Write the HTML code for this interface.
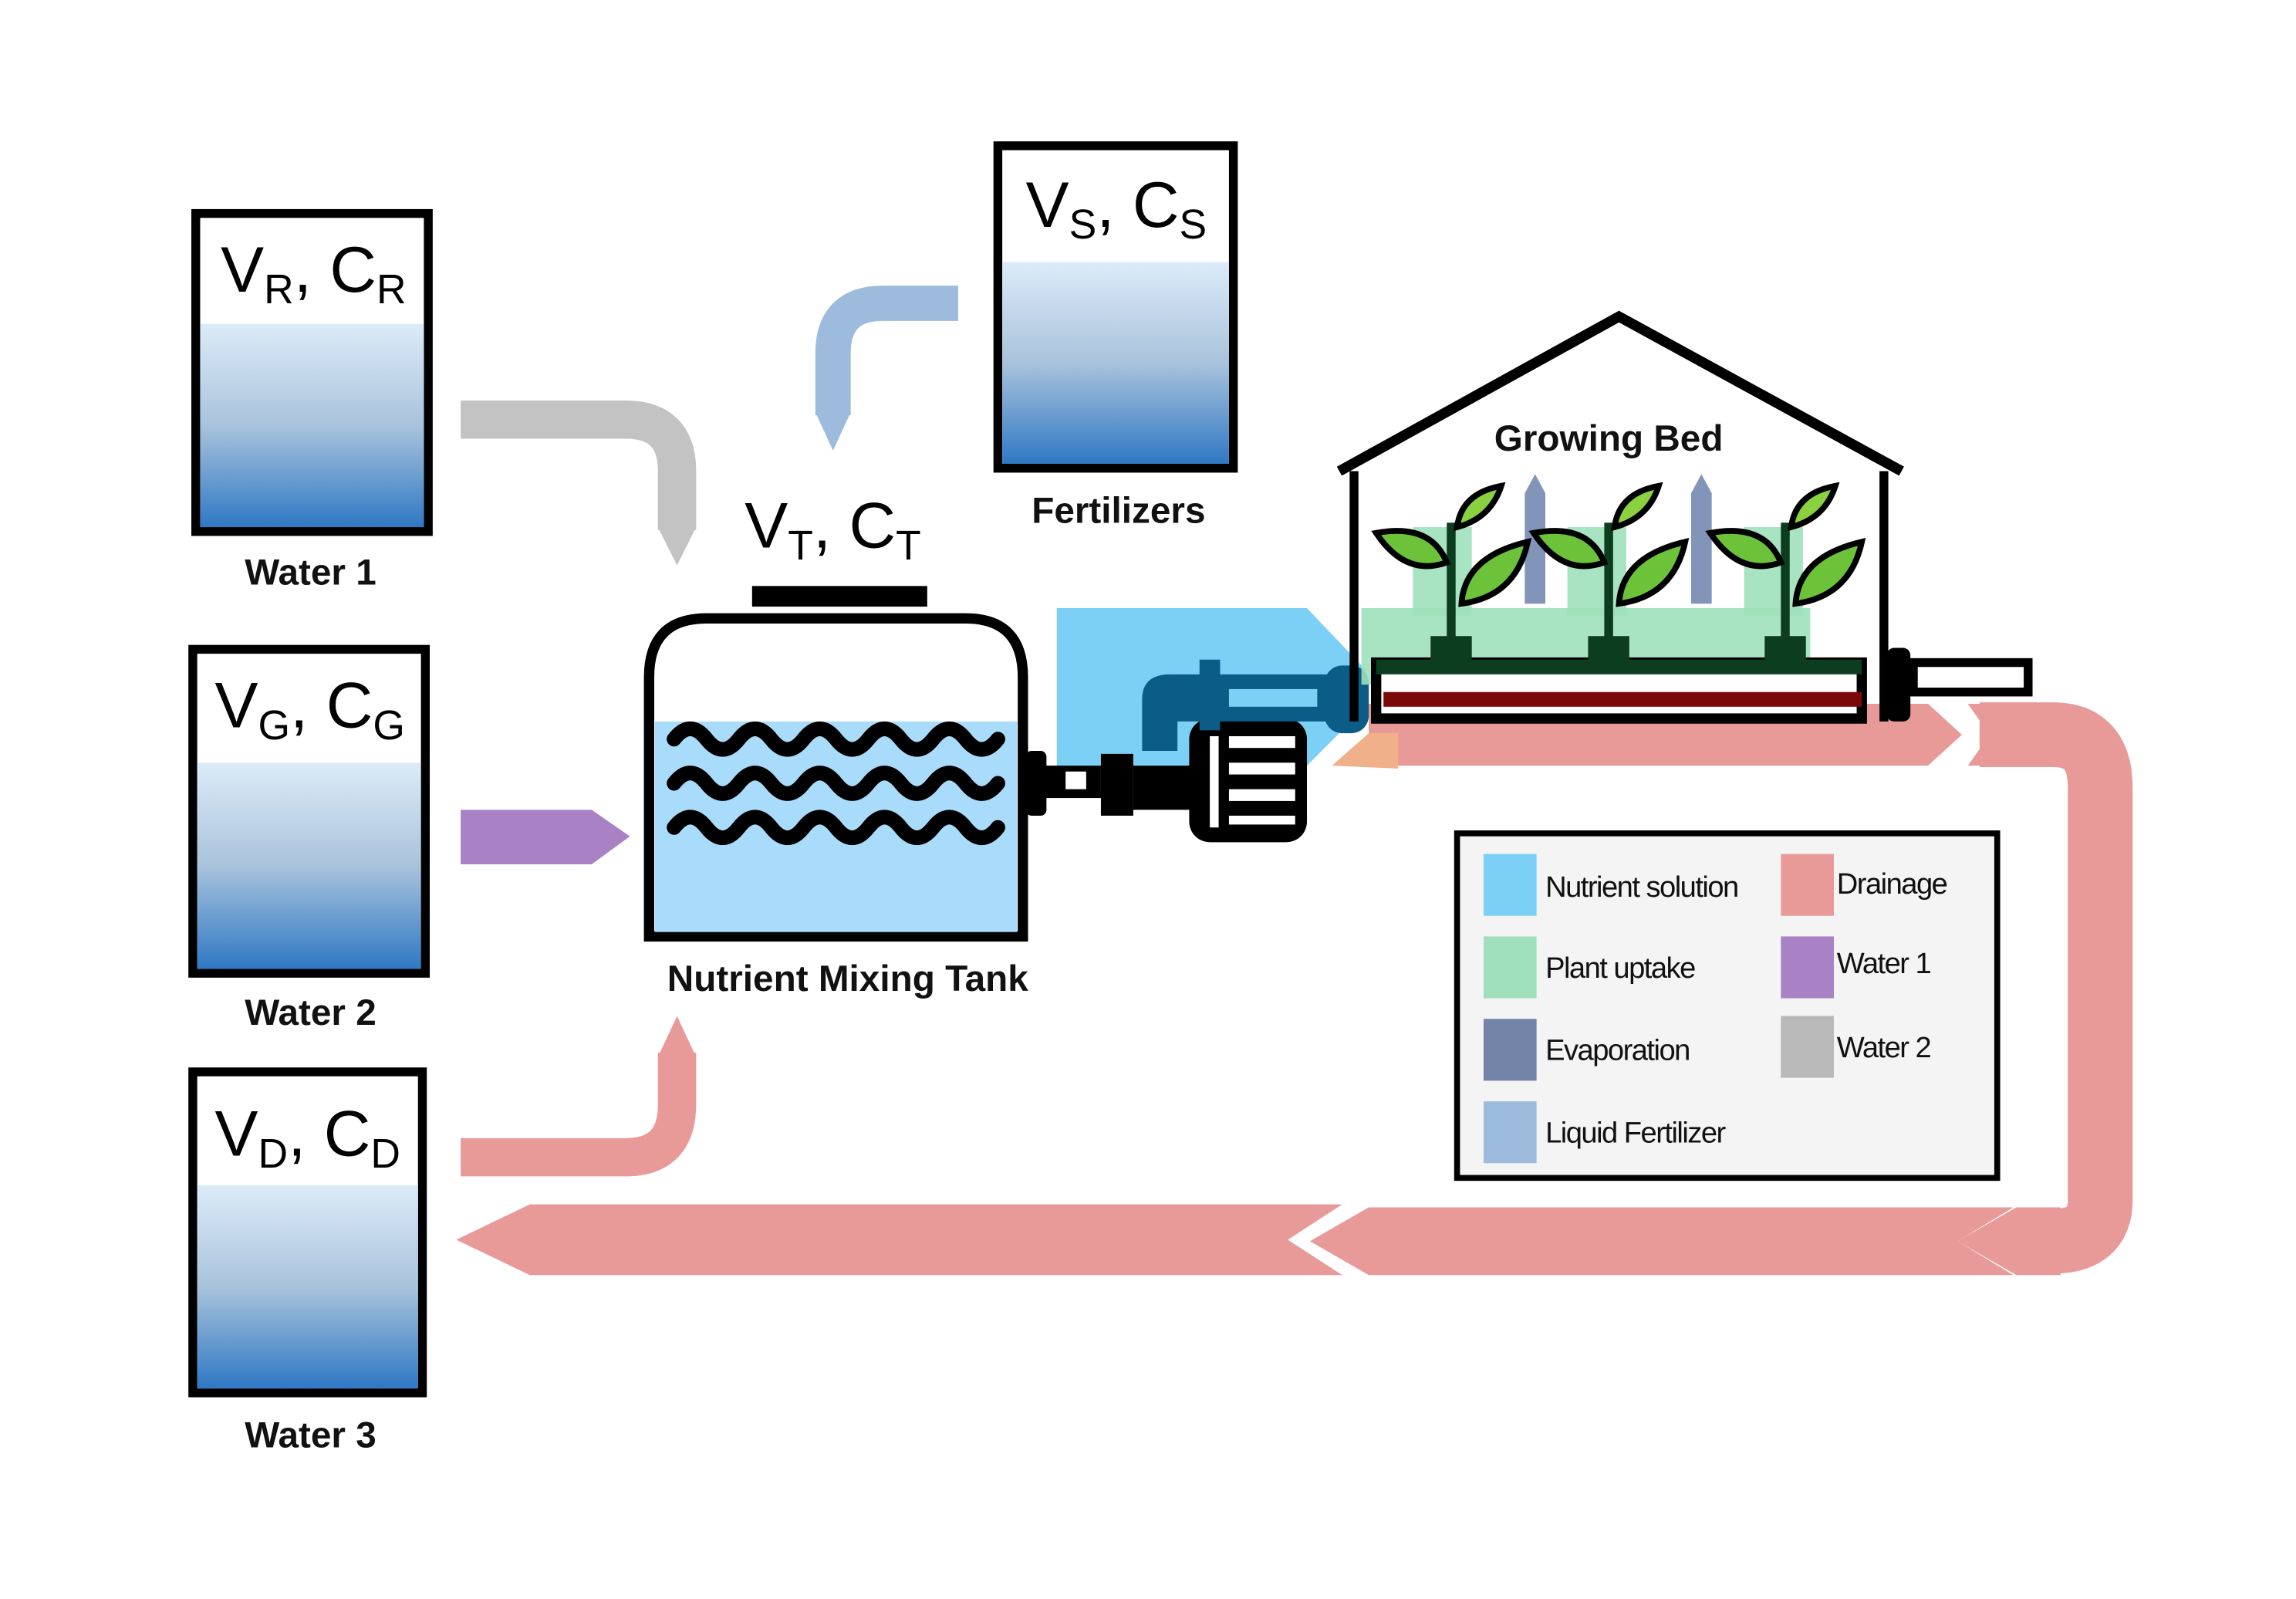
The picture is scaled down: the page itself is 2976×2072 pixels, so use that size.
<!DOCTYPE html>
<html><head><meta charset="utf-8"><style>
html,body{margin:0;padding:0;background:#fff}
svg{display:block}
text{font-family:"Liberation Sans",sans-serif}
</style></head><body>
<svg width="2976" height="2072" viewBox="0 0 1560 1086" preserveAspectRatio="none" xmlns="http://www.w3.org/2000/svg">
<defs>
<linearGradient id="wg" x1="0" y1="0" x2="0" y2="1">
<stop offset="0" stop-color="#dcebf8"/><stop offset="0.5" stop-color="#a9c3dc"/><stop offset="1" stop-color="#2f78c4"/>
</linearGradient>
</defs>
<rect width="1560" height="1086" fill="#fff"/>

<!-- flows to tank -->
<path d="M313,285 H425 Q460,285 460,320 V360" fill="none" stroke="#c3c3c3" stroke-width="26"/>
<polygon points="447,358 473,358 460,384" fill="#c3c3c3"/>
<polygon points="313,550 402,550 428,568 402,587 313,587" fill="#a982c6"/>
<path d="M313,786 H425 Q460,786 460,750 V715" fill="none" stroke="#e89a99" stroke-width="26"/>
<polygon points="447,718 473,718 460,690" fill="#e89a99"/>
<path d="M651,206 H600 Q566,206 566,240 V282" fill="none" stroke="#9dbcdd" stroke-width="24"/>
<polygon points="554,280 578,280 566,306" fill="#9dbcdd"/>

<!-- tanks -->
<g stroke="#000" stroke-width="6">
<rect x="133" y="145" width="158" height="216" fill="#fff"/>
<rect x="131" y="441" width="158" height="220" fill="#fff"/>
<rect x="131" y="728" width="156" height="218" fill="#fff"/>
<rect x="678" y="99" width="160" height="219" fill="#fff"/>
</g>
<rect x="136" y="220" width="152" height="138" fill="url(#wg)"/>
<rect x="134" y="518" width="152" height="140" fill="url(#wg)"/>
<rect x="134" y="805" width="150" height="138" fill="url(#wg)"/>
<rect x="681" y="178" width="154" height="137" fill="url(#wg)"/>
<g font-size="44" fill="#000">
<text x="150" y="198">V<tspan font-size="28" dy="8">R</tspan><tspan dy="-8">, C</tspan><tspan font-size="28" dy="8">R</tspan></text>
<text x="146" y="494">V<tspan font-size="28" dy="8">G</tspan><tspan dy="-8">, C</tspan><tspan font-size="28" dy="8">G</tspan></text>
<text x="146" y="785">V<tspan font-size="28" dy="8">D</tspan><tspan dy="-8">, C</tspan><tspan font-size="28" dy="8">D</tspan></text>
<text x="697" y="154">V<tspan font-size="28" dy="8">S</tspan><tspan dy="-8">, C</tspan><tspan font-size="28" dy="8">S</tspan></text>
<text x="506" y="372">V<tspan font-size="28" dy="8">T</tspan><tspan dy="-8">, C</tspan><tspan font-size="28" dy="8">T</tspan></text>
</g>
<g font-size="25" font-weight="bold" text-anchor="middle" fill="#111">
<text x="211" y="397">Water 1</text>
<text x="211" y="696">Water 2</text>
<text x="211" y="983">Water 3</text>
<text x="760" y="355">Fertilizers</text>
<text x="576" y="673">Nutrient Mixing Tank</text>
<text x="1093" y="306">Growing Bed</text>
</g>

<!-- mixing tank -->
<path d="M441,636 V460 Q441,420 480,420 H656 Q695,420 695,460 V636 Z" fill="#fff" stroke="#000" stroke-width="7"/>
<rect x="445" y="490" width="246" height="143" fill="#a9dcfa"/>
<rect x="511" y="398" width="119" height="14" fill="#000"/>
<g fill="none" stroke="#000" stroke-width="10" stroke-linecap="round">
<path d="M458,502 q11,-14 22,0 t22,0 t22,0 t22,0 t22,0 t22,0 t22,0 t22,0 t22,0 t22,0"/>
<path d="M458,532 q11,-14 22,0 t22,0 t22,0 t22,0 t22,0 t22,0 t22,0 t22,0 t22,0 t22,0"/>
<path d="M458,562 q11,-14 22,0 t22,0 t22,0 t22,0 t22,0 t22,0 t22,0 t22,0 t22,0 t22,0"/>
</g>

<!-- red drainage -->
<polygon points="930,478 1310,478 1333,499 1310,520 930,520" fill="#e89a99"/>
<polygon points="905,520 930,498 950,498 950,522" fill="#f0b08a"/>
<path d="M1345,499 H1395 Q1427,499 1427,535 V815 Q1427,843 1395,843 H1390" fill="none" stroke="#e89a99" stroke-width="44"/>
<polygon points="1337,478 1360,478 1360,520 1337,520 1352,499" fill="#e89a99"/>
<polygon points="1330,843 1370,820 1400,820 1400,866 1370,866" fill="#e89a99"/>
<polygon points="890,843 930,820 1368,820 1330,843 1368,866 930,866" fill="#e89a99"/>
<polygon points="310,842 360,818 912,818 875,842 912,866 360,866" fill="#e89a99"/>

<!-- nutrient flow -->
<polygon points="718,413 888,413 928,455 928,480 888,520 718,520" fill="#7dd0f5"/>

<!-- pump -->
<g fill="#000">
<rect x="697" y="510" width="14" height="44" rx="4"/>
<rect x="708" y="520" width="40" height="22"/>
<rect x="724" y="524" width="14" height="12" fill="#fff"/>
<rect x="748" y="512" width="22" height="42"/>
<rect x="770" y="520" width="40" height="30"/>
</g>
<rect x="808" y="488" width="80" height="84" rx="14" fill="#000"/>
<g fill="#fff">
<rect x="822" y="500" width="6" height="62"/>
<rect x="835" y="500" width="45" height="8"/><rect x="835" y="518" width="45" height="8"/><rect x="835" y="536" width="45" height="8"/><rect x="835" y="554" width="45" height="6"/>
</g>
<g fill="#0b5c86">
<path d="M776,510 V475 Q776,458 795,458 H915 V490 H800 V510 Z"/>
<rect x="815" y="448" width="14" height="48"/>
<rect x="900" y="452" width="30" height="46" rx="12"/>
<rect x="835" y="468" width="60" height="12" fill="#7dd0f5"/>
</g>

<!-- house -->
<polyline points="910,320 1100,215 1292,320" fill="none" stroke="#000" stroke-width="7"/>
<line x1="920" y1="320" x2="920" y2="490" stroke="#000" stroke-width="6"/>
<line x1="1280" y1="320" x2="1280" y2="490" stroke="#000" stroke-width="6"/>
<rect x="1300" y="450" width="78" height="20" fill="#fff" stroke="#000" stroke-width="6"/>
<rect x="1282" y="440" width="16" height="50" rx="5" fill="#000"/>
<!-- plant uptake -->
<rect x="925" y="413" width="305" height="52" fill="#9fe0bb" opacity="0.9"/>
<rect x="960" y="358" width="40" height="60" fill="#9fe0bb" opacity="0.9"/>
<rect x="1065" y="358" width="40" height="60" fill="#9fe0bb" opacity="0.9"/>
<rect x="1185" y="358" width="40" height="60" fill="#9fe0bb" opacity="0.9"/>
<!-- evaporation -->
<g fill="#8294b8">
<polygon points="1036,410 1036,335 1043,322 1050,335 1050,410"/>
<polygon points="1149,410 1149,335 1156,322 1163,335 1163,410"/>
</g>
<!-- bed -->
<rect x="935" y="450" width="330" height="38" fill="#fff" stroke="#000" stroke-width="7"/>
<rect x="940" y="470" width="325" height="10" fill="#7a0a0a"/>
<rect x="935" y="448" width="330" height="10" fill="#0b3d1e"/>
<!-- plants -->
<g>
<g id="pl">
<rect x="972" y="432" width="28" height="20" fill="#0b3d1e"/>
<rect x="983" y="355" width="6" height="80" fill="#0b3d1e"/>
<path d="M935,362 Q972,355 983,382 Q955,392 935,362 Z" fill="#6cc33a" stroke="#000" stroke-width="4"/>
<path d="M1038,368 Q1030,405 993,410 Q995,378 1038,368 Z" fill="#6cc33a" stroke="#000" stroke-width="4"/>
<path d="M1020,330 Q1013,352 990,358 Q993,335 1020,330 Z" fill="#8ad13f" stroke="#000" stroke-width="4"/>
</g>
<use href="#pl" x="107"/>
<use href="#pl" x="227"/>
</g>

<!-- legend -->
<rect x="990" y="566" width="367" height="234" fill="#f4f4f4" stroke="#000" stroke-width="4"/>
<rect x="1008" y="580" width="36" height="42" fill="#7dd0f5"/>
<rect x="1008" y="636" width="36" height="42" fill="#9fe0bb"/>
<rect x="1008" y="692" width="36" height="42" fill="#7384a8"/>
<rect x="1008" y="748" width="36" height="42" fill="#9dbcdd"/>
<rect x="1210" y="580" width="36" height="42" fill="#e89a99"/>
<rect x="1210" y="636" width="36" height="42" fill="#a982c6"/>
<rect x="1210" y="690" width="36" height="42" fill="#b9b9b9"/>
<g font-size="20" fill="#111" letter-spacing="-0.8">
<text x="1050" y="609">Nutrient solution</text>
<text x="1050" y="664">Plant uptake</text>
<text x="1050" y="720">Evaporation</text>
<text x="1050" y="776">Liquid Fertilizer</text>
<text x="1248" y="607">Drainage</text>
<text x="1248" y="661">Water 1</text>
<text x="1248" y="718">Water 2</text>
</g>
</svg>
</body></html>
